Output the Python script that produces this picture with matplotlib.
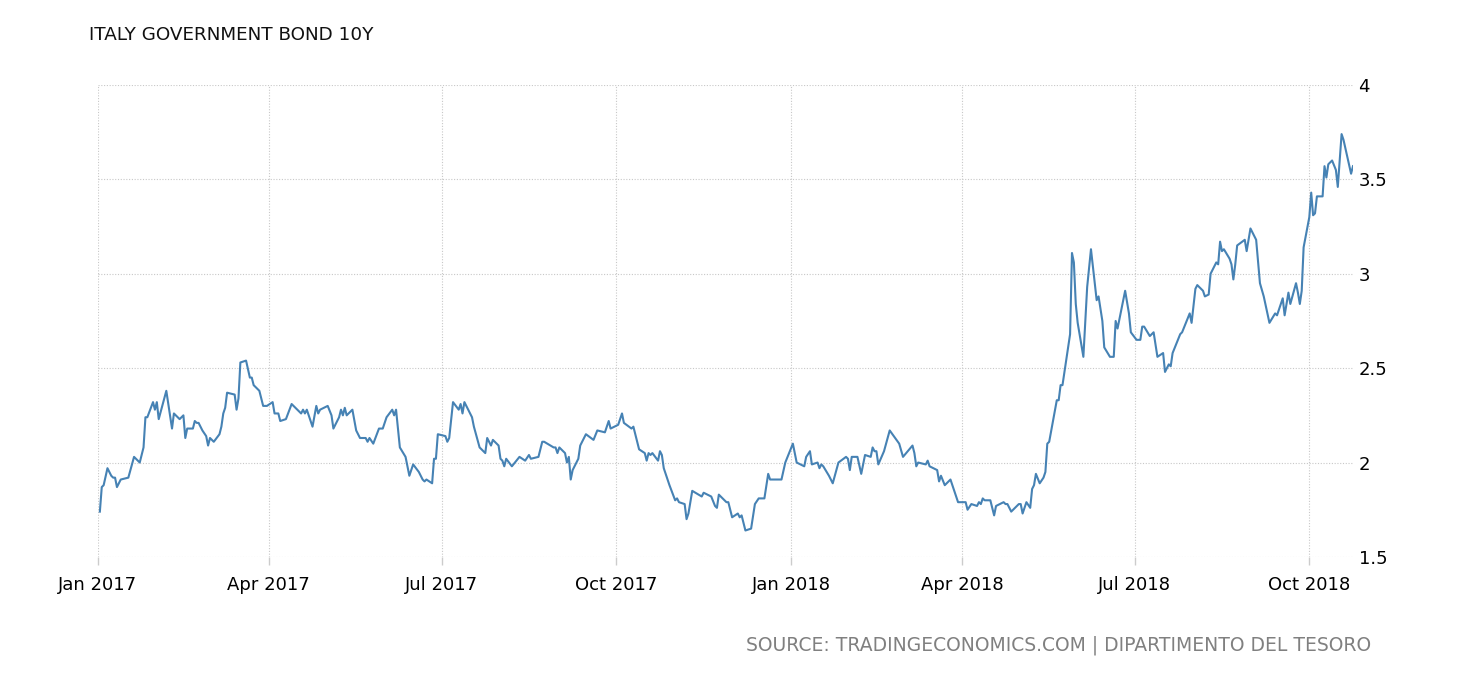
import pandas as pd
import matplotlib
matplotlib.use("Agg")
from matplotlib import pyplot as plt
import matplotlib.dates as mdates

title = "ITALY GOVERNMENT BOND 10Y"
source = "SOURCE: TRADINGECONOMICS.COM | DIPARTIMENTO DEL TESORO"

dates = [
    # 2017
    "2017-01-02", "2017-01-03", "2017-01-04", "2017-01-06", "2017-01-08", "2017-01-09",
    "2017-01-10", "2017-01-11", "2017-01-13", "2017-01-17", "2017-01-20", "2017-01-23",
    "2017-01-25", "2017-01-26", "2017-01-27", "2017-01-30", "2017-01-31", "2017-02-01",
    "2017-02-02", "2017-02-06", "2017-02-09", "2017-02-10", "2017-02-13", "2017-02-15",
    "2017-02-16", "2017-02-17", "2017-02-20", "2017-02-21", "2017-02-22", "2017-02-23",
    "2017-02-25", "2017-02-27", "2017-02-28", "2017-03-01", "2017-03-03", "2017-03-06",
    "2017-03-07", "2017-03-08", "2017-03-09", "2017-03-10", "2017-03-14", "2017-03-15",
    "2017-03-16", "2017-03-17", "2017-03-20", "2017-03-22", "2017-03-23", "2017-03-24",
    "2017-03-27", "2017-03-29", "2017-03-31", "2017-04-03", "2017-04-04", "2017-04-06",
    "2017-04-07", "2017-04-10", "2017-04-13", "2017-04-18", "2017-04-19", "2017-04-20",
    "2017-04-21", "2017-04-24", "2017-04-26", "2017-04-27", "2017-04-28", "2017-05-02",
    "2017-05-04", "2017-05-05", "2017-05-08", "2017-05-09", "2017-05-10", "2017-05-11",
    "2017-05-12", "2017-05-15", "2017-05-17", "2017-05-19", "2017-05-22", "2017-05-23",
    "2017-05-24", "2017-05-26", "2017-05-29", "2017-05-31", "2017-06-02", "2017-06-05",
    "2017-06-06", "2017-06-07", "2017-06-09", "2017-06-12", "2017-06-14", "2017-06-16",
    "2017-06-19", "2017-06-21", "2017-06-22", "2017-06-23", "2017-06-26", "2017-06-27",
    "2017-06-28", "2017-06-29", "2017-07-03", "2017-07-04", "2017-07-05", "2017-07-07",
    "2017-07-10", "2017-07-11", "2017-07-12", "2017-07-13", "2017-07-17", "2017-07-18",
    "2017-07-21", "2017-07-24", "2017-07-25", "2017-07-27", "2017-07-28", "2017-07-31",
    "2017-08-01", "2017-08-02", "2017-08-03", "2017-08-04", "2017-08-07", "2017-08-11",
    "2017-08-14", "2017-08-16", "2017-08-17", "2017-08-21", "2017-08-23", "2017-08-24",
    "2017-08-29", "2017-08-30", "2017-08-31", "2017-09-01", "2017-09-04", "2017-09-05",
    "2017-09-06", "2017-09-07", "2017-09-08", "2017-09-11", "2017-09-12", "2017-09-15",
    "2017-09-19", "2017-09-21", "2017-09-25", "2017-09-27", "2017-09-28", "2017-10-02",
    "2017-10-04", "2017-10-05", "2017-10-09", "2017-10-10", "2017-10-13", "2017-10-16",
    "2017-10-17", "2017-10-18", "2017-10-19", "2017-10-20", "2017-10-23", "2017-10-24",
    "2017-10-25", "2017-10-26", "2017-10-29", "2017-11-01", "2017-11-02", "2017-11-03",
    "2017-11-06", "2017-11-07", "2017-11-08", "2017-11-10", "2017-11-15", "2017-11-16",
    "2017-11-20", "2017-11-22", "2017-11-23", "2017-11-24", "2017-11-28", "2017-11-29",
    "2017-12-01", "2017-12-04", "2017-12-05", "2017-12-06", "2017-12-08", "2017-12-11",
    "2017-12-13", "2017-12-15", "2017-12-18", "2017-12-20", "2017-12-21", "2017-12-27",
    "2017-12-29",
    # 2018
    "2018-01-02", "2018-01-04", "2018-01-08", "2018-01-09", "2018-01-11", "2018-01-12",
    "2018-01-15", "2018-01-16", "2018-01-17", "2018-01-18", "2018-01-21", "2018-01-23",
    "2018-01-26", "2018-01-30", "2018-01-31", "2018-02-01", "2018-02-02", "2018-02-05",
    "2018-02-07", "2018-02-09", "2018-02-12", "2018-02-13", "2018-02-14", "2018-02-15",
    "2018-02-16", "2018-02-19", "2018-02-22", "2018-02-27", "2018-03-01", "2018-03-06",
    "2018-03-07", "2018-03-08", "2018-03-09", "2018-03-13", "2018-03-14", "2018-03-15",
    "2018-03-19", "2018-03-20", "2018-03-21", "2018-03-23", "2018-03-26", "2018-03-28",
    "2018-03-30", "2018-04-03", "2018-04-04", "2018-04-06", "2018-04-09", "2018-04-10",
    "2018-04-11", "2018-04-12", "2018-04-13", "2018-04-16", "2018-04-18", "2018-04-19",
    "2018-04-23", "2018-04-24", "2018-04-25", "2018-04-27", "2018-05-01", "2018-05-02",
    "2018-05-03", "2018-05-05", "2018-05-07", "2018-05-08", "2018-05-09", "2018-05-10",
    "2018-05-12", "2018-05-14", "2018-05-15", "2018-05-16", "2018-05-17", "2018-05-19",
    "2018-05-21", "2018-05-22", "2018-05-23", "2018-05-24", "2018-05-28", "2018-05-29",
    "2018-05-30", "2018-05-31", "2018-06-01", "2018-06-04", "2018-06-06", "2018-06-08",
    "2018-06-11", "2018-06-12", "2018-06-14", "2018-06-15", "2018-06-18", "2018-06-20",
    "2018-06-21", "2018-06-22", "2018-06-26", "2018-06-28", "2018-06-29", "2018-07-02",
    "2018-07-04", "2018-07-05", "2018-07-06", "2018-07-09", "2018-07-11", "2018-07-13",
    "2018-07-16", "2018-07-17", "2018-07-19", "2018-07-20", "2018-07-21", "2018-07-23",
    "2018-07-25", "2018-07-26", "2018-07-28", "2018-07-30", "2018-07-31", "2018-08-02",
    "2018-08-03", "2018-08-06", "2018-08-07", "2018-08-09", "2018-08-10", "2018-08-13",
    "2018-08-14", "2018-08-15", "2018-08-16", "2018-08-17", "2018-08-20", "2018-08-21",
    "2018-08-22", "2018-08-23", "2018-08-24", "2018-08-28", "2018-08-29", "2018-08-31",
    "2018-09-03", "2018-09-05", "2018-09-07", "2018-09-10", "2018-09-13", "2018-09-14",
    "2018-09-17", "2018-09-18", "2018-09-20", "2018-09-21", "2018-09-24", "2018-09-25",
    "2018-09-26", "2018-09-27", "2018-09-28", "2018-10-01", "2018-10-02", "2018-10-03",
    "2018-10-04", "2018-10-05", "2018-10-08", "2018-10-09", "2018-10-10", "2018-10-11",
    "2018-10-13", "2018-10-15", "2018-10-16", "2018-10-18", "2018-10-19", "2018-10-23",
    "2018-10-24",
]

yields = [
    # 2017
    1.74, 1.87, 1.88, 1.97, 1.93, 1.92,
    1.92, 1.87, 1.91, 1.92, 2.03, 2.00,
    2.08, 2.24, 2.24, 2.32, 2.28, 2.32,
    2.23, 2.38, 2.18, 2.26, 2.23, 2.25,
    2.13, 2.18, 2.18, 2.22, 2.21, 2.21,
    2.17, 2.14, 2.09, 2.13, 2.11, 2.15,
    2.19, 2.26, 2.29, 2.37, 2.36, 2.28,
    2.34, 2.53, 2.54, 2.45, 2.45, 2.41,
    2.38, 2.30, 2.30, 2.32, 2.26, 2.26,
    2.22, 2.23, 2.31, 2.26, 2.28, 2.26,
    2.28, 2.19, 2.30, 2.26, 2.28, 2.30,
    2.25, 2.18, 2.24, 2.28, 2.25, 2.29,
    2.25, 2.28, 2.17, 2.13, 2.13, 2.11,
    2.13, 2.10, 2.18, 2.18, 2.24, 2.28,
    2.25, 2.28, 2.08, 2.03, 1.93, 1.99,
    1.95, 1.91, 1.90, 1.91, 1.89, 2.02,
    2.02, 2.15, 2.14, 2.11, 2.13, 2.32,
    2.28, 2.31, 2.26, 2.32, 2.24, 2.19,
    2.08, 2.05, 2.13, 2.09, 2.12, 2.09,
    2.02, 2.01, 1.98, 2.02, 1.98, 2.03,
    2.01, 2.04, 2.02, 2.03, 2.11, 2.11,
    2.08, 2.08, 2.05, 2.08, 2.05, 2.00,
    2.03, 1.91, 1.96, 2.02, 2.09, 2.15,
    2.12, 2.17, 2.16, 2.22, 2.18, 2.20,
    2.26, 2.21, 2.18, 2.19, 2.07, 2.05,
    2.01, 2.05, 2.04, 2.05, 2.01, 2.06,
    2.04, 1.97, 1.88, 1.80, 1.81, 1.79,
    1.78, 1.70, 1.73, 1.85, 1.82, 1.84,
    1.82, 1.77, 1.76, 1.83, 1.79, 1.79,
    1.71, 1.73, 1.71, 1.72, 1.64, 1.65,
    1.78, 1.81, 1.81, 1.94, 1.91, 1.91,
    2.00,
    # 2018
    2.10, 2.00, 1.98, 2.03, 2.06, 1.99,
    2.00, 1.97, 1.99, 1.98, 1.93, 1.89,
    2.00, 2.03, 2.02, 1.96, 2.03, 2.03,
    1.94, 2.04, 2.03, 2.08, 2.06, 2.06,
    1.99, 2.06, 2.17, 2.10, 2.03, 2.09,
    2.05, 1.98, 2.00, 1.99, 2.01, 1.98,
    1.96, 1.90, 1.93, 1.88, 1.91, 1.85,
    1.79, 1.79, 1.75, 1.78, 1.77, 1.79,
    1.78, 1.81, 1.80, 1.80, 1.72, 1.77,
    1.79, 1.78, 1.78, 1.74, 1.78, 1.78,
    1.73, 1.79, 1.76, 1.86, 1.88, 1.94,
    1.89, 1.92, 1.95, 2.10, 2.11, 2.22,
    2.33, 2.33, 2.41, 2.41, 2.68, 3.11,
    3.06, 2.84, 2.74, 2.56, 2.93, 3.13,
    2.86, 2.88, 2.75, 2.61, 2.56, 2.56,
    2.75, 2.71, 2.91, 2.79, 2.69, 2.65,
    2.65, 2.72, 2.72, 2.67, 2.69, 2.56,
    2.58, 2.48, 2.52, 2.51, 2.58, 2.63,
    2.68, 2.69, 2.74, 2.79, 2.74, 2.92,
    2.94, 2.91, 2.88, 2.89, 3.00, 3.06,
    3.05, 3.17, 3.12, 3.13, 3.08, 3.05,
    2.97, 3.05, 3.15, 3.18, 3.12, 3.24,
    3.18, 2.95, 2.88, 2.74, 2.79, 2.78,
    2.87, 2.78, 2.90, 2.84, 2.95, 2.90,
    2.84, 2.91, 3.14, 3.30, 3.43, 3.31,
    3.32, 3.41, 3.41, 3.57, 3.51, 3.58,
    3.60, 3.55, 3.46, 3.74, 3.71, 3.53,
    3.57,
]

x_ticks = ["2017-01-01", "2017-04-01", "2017-07-01", "2017-10-01",
           "2018-01-01", "2018-04-01", "2018-07-01", "2018-10-01"]
y_ticks = [1.5, 2, 2.5, 3, 3.5, 4]


def main():
    series = pd.Series(yields, index=pd.to_datetime(dates))

    fig = plt.figure(figsize=(14.6, 6.8), dpi=100)
    ax = fig.add_axes([0.0671, 0.181, 0.8596, 0.694])

    ax.plot(series.index, series.values, color="#4682b4", linewidth=1.5)

    ax.set_xlim(pd.Timestamp("2017-01-01"), pd.Timestamp("2018-10-24"))
    ax.set_ylim(1.5, 4)

    ax.set_xticks(pd.to_datetime(x_ticks))
    ax.xaxis.set_major_formatter(mdates.DateFormatter("%b %Y"))
    ax.set_yticks(y_ticks)
    ax.set_yticklabels([f"{v:g}" for v in y_ticks])

    ax.yaxis.tick_right()
    ax.tick_params(axis="y", length=0, pad=4, labelsize=13)
    ax.tick_params(axis="x", length=6, width=1, color="#cccccc", pad=8, labelsize=13)

    for s in ax.spines.values():
        s.set_visible(False)

    ax.grid(True, color="#c8c8c8", linestyle=(0, (1, 1.5)), linewidth=0.8)
    ax.set_axisbelow(True)

    fig.text(0.061, 0.948, title, fontsize=13.2, ha="left", va="center", color="#111111")
    fig.text(0.939, 0.051, source, fontsize=13.5, ha="right", va="center", color="#808080")

    fig.savefig("out.png", dpi=100)


if __name__ == "__main__":
    main()
